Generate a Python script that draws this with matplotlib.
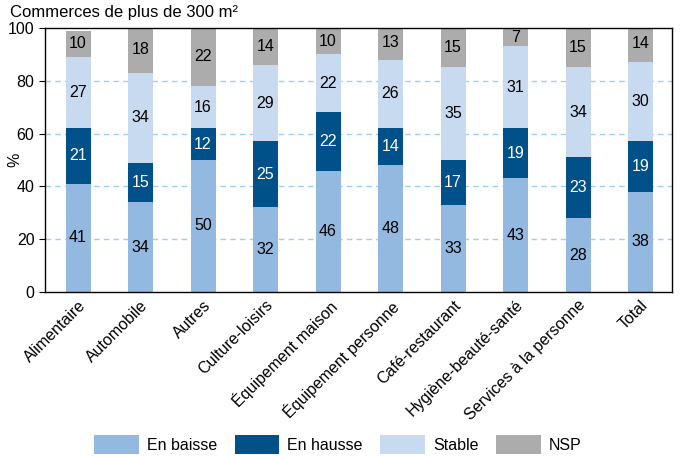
import numpy as np
import matplotlib.pyplot as plt
from matplotlib.patches import Patch

plt.rcParams['font.family'] = ['Liberation Sans', 'DejaVu Sans']

categories = ["Alimentaire", "Automobile", "Autres", "Culture-loisirs",
              "Équipement maison", "Équipement personne", "Café-restaurant",
              "Hygiène-beauté-santé", "Services à la personne", "Total"]
baisse = [41, 34, 50, 32, 46, 48, 33, 43, 28, 38]
hausse = [21, 15, 12, 25, 22, 14, 17, 19, 23, 19]
stable = [27, 34, 16, 29, 22, 26, 35, 31, 34, 30]
nsp = [10, 18, 22, 14, 10, 13, 15, 7, 15, 14]

series = [("En baisse", baisse, "#93b9e1", "black"),
          ("En hausse", hausse, "#00508a", "white"),
          ("Stable", stable, "#c8daf0", "black"),
          ("NSP", nsp, "#acacac", "black")]

fig = plt.figure(figsize=(6.8, 4.57), dpi=100)
ax = fig.add_axes([0.066, 0.361, 0.922, 0.578])

x = np.arange(len(categories))
bottom = np.zeros(len(categories))
for name, vals, col, tcol in series:
    vals = np.array(vals)
    ax.bar(x, vals, 0.4, bottom=bottom, color=col, zorder=2)
    for xi, b, v in zip(x, bottom, vals):
        ax.text(xi, b + v / 2, str(v), ha='center', va='center',
                fontsize=11.5, color=tcol, zorder=3)
    bottom = bottom + vals

ax.set_xlim(-0.53, 9.5)
ax.set_ylim(0, 100)
ax.set_yticks([0, 20, 40, 60, 80, 100])
ax.tick_params(axis='y', labelsize=11.5, length=4)
ax.tick_params(axis='x', length=0, labelsize=11.5, pad=4)
ax.set_xticks(x)
ax.set_xticklabels(categories, rotation=45, ha='right', rotation_mode='anchor')
for yv in [20, 40, 60, 80]:
    ax.axhline(yv, color='#9fcfee', linestyle=(0, (4, 3)), linewidth=1, zorder=1)
for s in ax.spines.values():
    s.set_linewidth(1)

fig.text(0.015, 0.972, "Commerces de plus de 300 m²", fontsize=12, va='center')
fig.text(0.022, 0.65, "%", fontsize=11.5, rotation=90, va='center', ha='center')

handles = [Patch(facecolor=c, label=n) for n, _, c, _ in series]
fig.legend(handles=handles, loc='center', bbox_to_anchor=(0.497, 0.027), ncol=4,
           frameon=False, fontsize=11.5, handlelength=2.8, handleheight=1.4,
           columnspacing=1.1, handletextpad=0.5)

fig.savefig("out.png", dpi=100)
